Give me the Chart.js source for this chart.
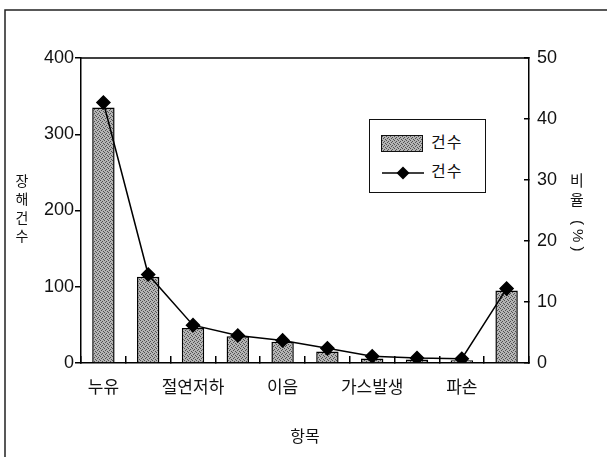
<!DOCTYPE html>
<html lang="ko">
<head>
<meta charset="utf-8">
<title>장해건수 / 비율</title>
<script src="https://cdn.jsdelivr.net/npm/chart.js@4.4.1/dist/chart.umd.min.js"></script>
<style>
  body { margin: 0; background: #fff; }
  #wrap { position: relative; width: 607px; height: 457px; }
  #legend {
    position: absolute; left: 369px; top: 119px;
    width: 117px; height: 74px; box-sizing: border-box;
    border: 1.5px solid #111; background: #fff;
    font: 16px "Liberation Sans", "Noto Sans CJK KR", sans-serif; color: #111;
  }
  #legend .swatch-bar { position: absolute; left: 11px; top: 15px; width: 42px; height: 17px; box-sizing: border-box; border: 1.5px solid #111; }
  #legend .swatch-line { position: absolute; left: 12px; top: 45px; }
  #legend .txt { position: absolute; left: 61px; line-height: 18px; letter-spacing: 1px; }
</style>
</head>
<body>
<div id="wrap">
  <canvas id="chart" width="607" height="457"></canvas>
  <div id="legend"></div>
</div>
<script>
// data
const categories = ["누유", "", "절연저하", "", "이음", "", "가스발생", "", "파손", ""];
const counts = [335, 113, 46, 35, 28, 15, 6, 4.5, 3.5, 95];
const ratios = [42.7, 14.5, 6.2, 4.5, 3.7, 2.4, 1.1, 0.8, 0.7, 12.2];
const countTicks = [0, 100, 200, 300, 400];
const ratioTicks = [0, 10, 20, 30, 40, 50];
const barLabel = "건수";
const lineLabel = "건수";
const leftTitle = "장해건수";
const rightTitle = "비율 (%)";
const bottomTitle = "항목";

const FONT = '"Liberation Sans", "Noto Sans CJK KR", sans-serif';

// stippled gray fill like the scanned bars
function makePatternCanvas() {
  const c = document.createElement("canvas");
  c.width = 4;
  c.height = 4;
  const g = c.getContext("2d");
  g.fillStyle = "#b4b4b4";
  g.fillRect(0, 0, 4, 4);
  g.fillStyle = "#505050";
  [[0, 0], [2, 1], [1, 2], [3, 3]].forEach(([x, y]) => g.fillRect(x, y, 1, 1));
  return c;
}

// vertical writing: hangul upright, other runs turned 90deg
function drawVertical(c, text, x, y, size) {
  const tokens = text.match(/[\uAC00-\uD7A3]|\s+|[^\uAC00-\uD7A3\s]+/g) || [];
  c.font = size + "px " + FONT;
  c.textAlign = "center";
  c.textBaseline = "middle";
  tokens.forEach((tok) => {
    if (/^\s+$/.test(tok)) {
      y += size * 0.3;
    } else if (/[\uAC00-\uD7A3]/.test(tok)) {
      c.fillText(tok, x, y + size / 2);
      y += size * 1.32;
    } else {
      c.save();
      c.letterSpacing = "4px";
      const w = c.measureText(tok).width;
      c.translate(x, y + w / 2);
      c.rotate(Math.PI / 2);
      c.fillText(tok, 2, 0);
      c.restore();
      y += w;
    }
  });
}

const patternCanvas = makePatternCanvas();
const ctx = document.getElementById("chart").getContext("2d");
const barFill = ctx.createPattern(patternCanvas, "repeat");

// outer frame, plot top line and the two vertical titles
const decorations = {
  id: "decorations",
  beforeDraw(chart) {
    const c = chart.ctx;
    c.save();
    c.strokeStyle = "#222";
    c.lineWidth = 1.5;
    c.beginPath();
    c.moveTo(5, 457);
    c.lineTo(5, 10);
    c.lineTo(607, 10);
    c.stroke();
    c.restore();
  },
  afterDraw(chart) {
    const c = chart.ctx;
    const area = chart.chartArea;
    c.save();
    c.strokeStyle = "#000";
    c.lineWidth = 1.5;
    c.beginPath();
    c.moveTo(area.left, area.top);
    c.lineTo(area.right, area.top);
    c.stroke();

    c.fillStyle = "#111";
    drawVertical(c, leftTitle, 22, 175, 14);
    drawVertical(c, rightTitle, 577, 174, 15);
    c.restore();
  },
};

const chart = new Chart(ctx, {
  type: "bar",
  data: {
    labels: categories,
    datasets: [
      {
        type: "line",
        label: lineLabel,
        data: ratios,
        yAxisID: "y1",
        borderColor: "#000",
        borderWidth: 1.5,
        pointStyle: "rectRot",
        pointRadius: 6.5,
        pointBackgroundColor: "#000",
        pointBorderColor: "#000",
        tension: 0,
        order: 0,
      },
      {
        label: barLabel,
        data: counts,
        yAxisID: "y",
        backgroundColor: barFill,
        borderColor: "#000",
        borderWidth: 1.5,
        barPercentage: 0.5,
        categoryPercentage: 1,
        order: 1,
      },
    ],
  },
  options: {
    responsive: false,
    animation: false,
    devicePixelRatio: 1,
    layout: { padding: { top: 58, left: 0, right: 0, bottom: 0 } },
    plugins: {
      legend: { display: false },
      tooltip: { enabled: false },
    },
    scales: {
      x: {
        grid: { drawOnChartArea: false, tickLength: -7, color: "#000", lineWidth: 1.5 },
        border: { color: "#000", width: 1.5 },
        ticks: { autoSkip: false, maxRotation: 0, padding: 22, color: "#111", font: { family: FONT, size: 17 } },
        title: { display: true, text: bottomTitle, color: "#111", padding: { top: 0, bottom: 10 }, font: { family: FONT, size: 16 } },
        afterFit: (scale) => { scale.height = 94; },
      },
      y: {
        position: "left",
        min: countTicks[0],
        max: countTicks[countTicks.length - 1],
        afterBuildTicks: (scale) => { scale.ticks = countTicks.map((v) => ({ value: v })); },
        grid: { drawOnChartArea: false, tickLength: 6, color: "#000", lineWidth: 1.5 },
        border: { color: "#000", width: 1.5 },
        ticks: { padding: 1, color: "#111", font: { family: FONT, size: 18 } },
        afterFit: (scale) => { scale.width = 81; },
      },
      y1: {
        position: "right",
        min: ratioTicks[0],
        max: ratioTicks[ratioTicks.length - 1],
        afterBuildTicks: (scale) => { scale.ticks = ratioTicks.map((v) => ({ value: v })); },
        grid: { drawOnChartArea: false, tickLength: -5, color: "#000", lineWidth: 1.5 },
        border: { color: "#000", width: 1.5 },
        ticks: { padding: 13, color: "#111", font: { family: FONT, size: 18 } },
        afterFit: (scale) => { scale.width = 78; },
      },
    },
  },
  plugins: [decorations],
});

// html legend built from the datasets
function buildLegend() {
  const legendEl = document.getElementById("legend");
  const bar = chart.data.datasets[1];
  const line = chart.data.datasets[0];

  const barSwatch = document.createElement("div");
  barSwatch.className = "swatch-bar";
  barSwatch.style.backgroundImage = `url(${patternCanvas.toDataURL()})`;
  legendEl.appendChild(barSwatch);

  const barText = document.createElement("div");
  barText.className = "txt";
  barText.style.top = "14px";
  barText.textContent = bar.label;
  legendEl.appendChild(barText);

  const lineCanvas = document.createElement("canvas");
  lineCanvas.className = "swatch-line";
  lineCanvas.width = 42;
  lineCanvas.height = 16;
  const g = lineCanvas.getContext("2d");
  g.strokeStyle = "#000";
  g.lineWidth = 1.5;
  g.beginPath();
  g.moveTo(0, 8);
  g.lineTo(42, 8);
  g.stroke();
  g.fillStyle = "#000";
  g.beginPath();
  g.moveTo(21, 1.5);
  g.lineTo(27.5, 8);
  g.lineTo(21, 14.5);
  g.lineTo(14.5, 8);
  g.closePath();
  g.fill();
  legendEl.appendChild(lineCanvas);

  const lineText = document.createElement("div");
  lineText.className = "txt";
  lineText.style.top = "43px";
  lineText.textContent = line.label;
  legendEl.appendChild(lineText);
}

buildLegend();
</script>
</body>
</html>
